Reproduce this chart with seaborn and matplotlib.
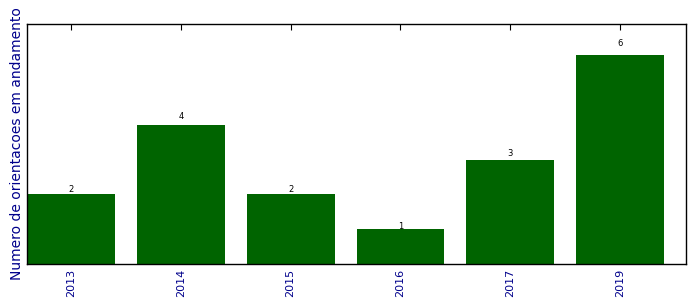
import matplotlib
matplotlib.use("Agg")
import matplotlib.pyplot as plt
import seaborn as sns
import pandas as pd

years = ["2013", "2014", "2015", "2016", "2017", "2019"]
counts = [2, 4, 2, 1, 3, 6]

sns.set_style("white")
plt.rcParams['font.family'] = ['DejaVu Sans']

df = pd.DataFrame({"ano": years, "n": counts})

fig = plt.figure(figsize=(6.96, 3.08), dpi=100)
ax = fig.add_axes([27/696, 44/308, 659/696, 240/308])
sns.barplot(data=df, x="ano", y="n", color="#006400", saturation=1, width=0.8, ax=ax,
            edgecolor="#006400", linewidth=0)

ax.set_xlim(-0.4, 5.6)
ax.set_ylim(0, max(counts) * 1.15)
ax.set_yticks([])
ax.set_xlabel("")
ax.set_ylabel("Numero de orientacoes em andamento", color="#00008b", fontsize=10, labelpad=2)
for lbl in ax.get_xticklabels():
    lbl.set_rotation(90)
    lbl.set_color("#00008b")
    lbl.set_fontsize(8)
ax.tick_params(axis="x", direction="in", length=4, top=True, bottom=True, width=0.8, color="black")
for s in ax.spines.values():
    s.set_color("black")
    s.set_linewidth(1.0)
    s.set_visible(True)

for i, v in enumerate(counts):
    ax.text(i, v * 1.05 - 0.09, str(v), ha="center", va="bottom", fontsize=6, color="black")

fig.savefig("out.png", dpi=100)
